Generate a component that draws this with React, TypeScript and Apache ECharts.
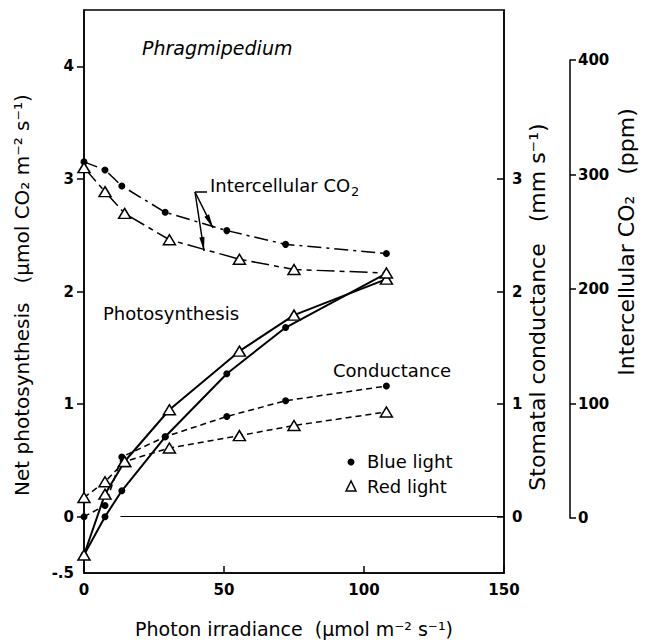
import React, { useEffect, useRef } from "react";
import * as echarts from "echarts";

// Photon irradiance (µmol m-2 s-1)
const blueX = [0, 7.5, 13.5, 29, 51, 72, 108];
const redX = [0, 7.5, 14.5, 30.5, 55.5, 75, 108];

// Net photosynthesis (µmol CO2 m-2 s-1)
const bluePhoto = [-0.34, 0.0, 0.23, 0.71, 1.27, 1.68, 2.16];
const redPhoto = [-0.34, 0.2, 0.49, 0.95, 1.47, 1.79, 2.11];

// Stomatal conductance (mm s-1)
const blueCond = [0.0, 0.1, 0.53, 0.71, 0.89, 1.03, 1.16];
const redCond = [0.17, 0.31, 0.49, 0.61, 0.72, 0.81, 0.93];

// Intercellular CO2 (ppm)
const blueCO2 = [311, 304, 290, 267, 251, 239, 231];
const redCO2 = [306, 285, 266, 243, 226, 217, 214];

// Tick labels
const leftLabels = [-0.5, 0, 1, 2, 3, 4];
const leftTicks = [0, 1, 2, 3, 4];
const condTicks = [0, 1, 2, 3];

const FONT = '"DejaVu Sans", "Noto Sans", sans-serif';

const pair = (xs: number[], ys: number[]) => xs.map((x, i) => [x, ys[i]]);

function arrowHead(x1: number, y1: number, x2: number, y2: number, len: number, half: number) {
  const dx = x2 - x1;
  const dy = y2 - y1;
  const d = Math.sqrt(dx * dx + dy * dy);
  const ux = dx / d;
  const uy = dy / d;
  const bx = x2 - ux * len;
  const by = y2 - uy * len;
  return [
    [x2, y2],
    [bx - uy * half, by + ux * half],
    [bx + uy * half, by - ux * half],
  ];
}

export default function App() {
  const ref = useRef<HTMLDivElement>(null);

  useEffect(() => {
    const chart = echarts.init(ref.current!, null, { renderer: "svg" });

    const blueSym = {
      symbol: "circle",
      symbolSize: 7,
      itemStyle: { color: "#000", borderColor: "#000", borderWidth: 0 },
    };
    const redSym = {
      symbol: "triangle",
      symbolSize: [12, 10],
      itemStyle: { color: "#fff", borderColor: "#000", borderWidth: 1.5 },
    };

    const ax1 = [195, 192, 213, 228];
    const ax2 = [195, 192, 204, 251];

    const tickStyle = { color: "#000", width: 1.5 };
    const labelStyle = { color: "#000", fontSize: 15, fontWeight: "bold", fontFamily: FONT };

    const option: any = {
      animation: false,
      backgroundColor: "#fff",
      textStyle: { fontFamily: FONT, color: "#000" },
      grid: [
        {
          left: 84,
          right: 148,
          top: 10,
          bottom: 68,
          show: true,
          borderColor: "#000",
          borderWidth: 1.5,
          backgroundColor: "transparent",
        },
        { left: 84, right: 148, top: 60, bottom: 125, show: false },
      ],
      xAxis: [
        {
          type: "value",
          gridIndex: 0,
          min: 0,
          max: 150,
          interval: 50,
          axisLine: { show: true, onZero: false, lineStyle: tickStyle },
          axisTick: { show: true, inside: true, length: 7, lineStyle: tickStyle },
          axisLabel: { ...labelStyle, margin: 9 },
          splitLine: { show: false },
          name: "Photon irradiance  (μmol m⁻² s⁻¹)",
          nameLocation: "middle",
          nameGap: 46,
          nameTextStyle: { fontSize: 19, fontFamily: FONT, color: "#000" },
        },
        { type: "value", gridIndex: 1, min: 0, max: 150, show: false },
      ],
      yAxis: [
        {
          type: "value",
          gridIndex: 0,
          position: "left",
          min: -0.5,
          max: 4.5,
          axisLine: { show: true, onZero: false, lineStyle: tickStyle },
          axisTick: { show: true, inside: false, length: 7, customValues: leftTicks, lineStyle: tickStyle },
          axisLabel: {
            ...labelStyle,
            customValues: leftLabels,
            formatter: (v: number) => (v === -0.5 ? "-.5" : String(v)),
            margin: 10,
          },
          splitLine: { show: false },
        },
        {
          type: "value",
          gridIndex: 0,
          position: "right",
          min: -0.5,
          max: 4.5,
          axisLine: { show: true, onZero: false, lineStyle: tickStyle },
          axisTick: { show: true, inside: true, length: 7, customValues: condTicks, lineStyle: tickStyle },
          axisLabel: { ...labelStyle, customValues: condTicks, margin: 8 },
          splitLine: { show: false },
        },
        {
          type: "value",
          gridIndex: 1,
          position: "right",
          offset: 66,
          min: 0,
          max: 400,
          interval: 100,
          axisLine: { show: true, onZero: false, lineStyle: tickStyle },
          axisTick: { show: true, inside: false, length: 6, lineStyle: tickStyle },
          axisLabel: { ...labelStyle, margin: 8 },
          splitLine: { show: false },
        },
      ],
      series: [
        {
          name: "Photosynthesis blue",
          type: "line",
          xAxisIndex: 0,
          yAxisIndex: 0,
          data: pair(blueX, bluePhoto),
          lineStyle: { color: "#000", width: 2, type: "solid" },
          ...blueSym,
          z: 3,
          markLine: {
            silent: true,
            symbol: "none",
            label: { show: false },
            lineStyle: { color: "#000", width: 1.2, type: "solid" },
            data: [[{ coord: [13, 0] }, { coord: [150, 0] }]],
          },
        },
        {
          name: "Photosynthesis red",
          type: "line",
          xAxisIndex: 0,
          yAxisIndex: 0,
          data: pair(redX, redPhoto),
          lineStyle: { color: "#000", width: 2, type: "solid" },
          ...redSym,
          z: 4,
        },
        {
          name: "Conductance blue",
          type: "line",
          xAxisIndex: 0,
          yAxisIndex: 1,
          data: pair(blueX, blueCond),
          lineStyle: { color: "#000", width: 1.5, type: [6, 4] },
          ...blueSym,
          z: 3,
        },
        {
          name: "Conductance red",
          type: "line",
          xAxisIndex: 0,
          yAxisIndex: 1,
          data: pair(redX, redCond),
          lineStyle: { color: "#000", width: 1.5, type: [6, 4] },
          ...redSym,
          z: 4,
        },
        {
          name: "CO2 blue",
          type: "line",
          xAxisIndex: 1,
          yAxisIndex: 2,
          data: pair(blueX, blueCO2),
          lineStyle: { color: "#000", width: 1.5, type: [14, 5, 3, 5] },
          ...blueSym,
          z: 3,
        },
        {
          name: "CO2 red",
          type: "line",
          xAxisIndex: 1,
          yAxisIndex: 2,
          data: pair(redX, redCO2),
          lineStyle: { color: "#000", width: 1.5, type: [18, 5, 5, 5] },
          ...redSym,
          z: 4,
        },
      ],
      graphic: [
        {
          type: "text",
          x: 142,
          y: 48,
          style: { text: "Phragmipedium", fontSize: 19, fontStyle: "italic", fontFamily: FONT, fill: "#000", align: "left", verticalAlign: "middle" },
        },
        {
          type: "text",
          x: 210,
          y: 185,
          style: {
            text: "{a|Intercellular CO}{s|2}",
            fontFamily: FONT,
            fill: "#000",
            align: "left",
            verticalAlign: "middle",
            rich: {
              a: { fontSize: 18, fontFamily: FONT, fill: "#000" },
              s: { fontSize: 13, fontFamily: FONT, fill: "#000", padding: [12, 0, 0, 1] },
            },
          },
        },
        { type: "line", shape: { x1: 195, y1: 192, x2: 207, y2: 192 }, style: { stroke: "#000", lineWidth: 1.5 } },
        { type: "line", shape: { x1: ax1[0], y1: ax1[1], x2: ax1[2], y2: ax1[3] }, style: { stroke: "#000", lineWidth: 1.5 } },
        { type: "line", shape: { x1: ax2[0], y1: ax2[1], x2: ax2[2], y2: ax2[3] }, style: { stroke: "#000", lineWidth: 1.5 } },
        { type: "polygon", shape: { points: arrowHead(ax1[0], ax1[1], ax1[2], ax1[3], 14, 2.6) }, style: { fill: "#000" } },
        { type: "polygon", shape: { points: arrowHead(ax2[0], ax2[1], ax2[2], ax2[3], 14, 2.6) }, style: { fill: "#000" } },
        {
          type: "text",
          x: 103,
          y: 313,
          style: { text: "Photosynthesis", fontSize: 18, fontFamily: FONT, fill: "#000", align: "left", verticalAlign: "middle" },
        },
        {
          type: "text",
          x: 333,
          y: 370,
          style: { text: "Conductance", fontSize: 18, fontFamily: FONT, fill: "#000", align: "left", verticalAlign: "middle" },
        },
        { type: "circle", shape: { cx: 351, cy: 462, r: 3.5 }, style: { fill: "#000" } },
        {
          type: "polygon",
          shape: { points: [[351, 481], [346, 491], [356, 491]] },
          style: { fill: "#fff", stroke: "#000", lineWidth: 1.5 },
        },
        {
          type: "text",
          x: 367,
          y: 461,
          style: { text: "Blue light", fontSize: 18, fontFamily: FONT, fill: "#000", align: "left", verticalAlign: "middle" },
        },
        {
          type: "text",
          x: 367,
          y: 486,
          style: { text: "Red light", fontSize: 18, fontFamily: FONT, fill: "#000", align: "left", verticalAlign: "middle" },
        },
        {
          type: "text",
          x: 22,
          y: 295,
          rotation: Math.PI / 2,
          style: {
            text: "Net photosynthesis   (μmol CO₂ m⁻² s⁻¹)",
            fontSize: 20,
            fontFamily: FONT,
            fill: "#000",
            align: "center",
            verticalAlign: "middle",
          },
        },
        {
          type: "text",
          x: 537,
          y: 307,
          rotation: Math.PI / 2,
          style: {
            text: "Stomatal conductance   (mm s⁻¹)",
            fontSize: 22,
            fontFamily: FONT,
            fill: "#000",
            align: "center",
            verticalAlign: "middle",
          },
        },
        {
          type: "text",
          x: 626,
          y: 242,
          rotation: Math.PI / 2,
          style: {
            text: "Intercellular CO₂   (ppm)",
            fontSize: 22,
            fontFamily: FONT,
            fill: "#000",
            align: "center",
            verticalAlign: "middle",
          },
        },
      ],
    };

    chart.setOption(option);
    return () => chart.dispose();
  }, []);

  return <div ref={ref} style={{ position: "fixed", left: 0, top: 0, width: 652, height: 643 }} />;
}
